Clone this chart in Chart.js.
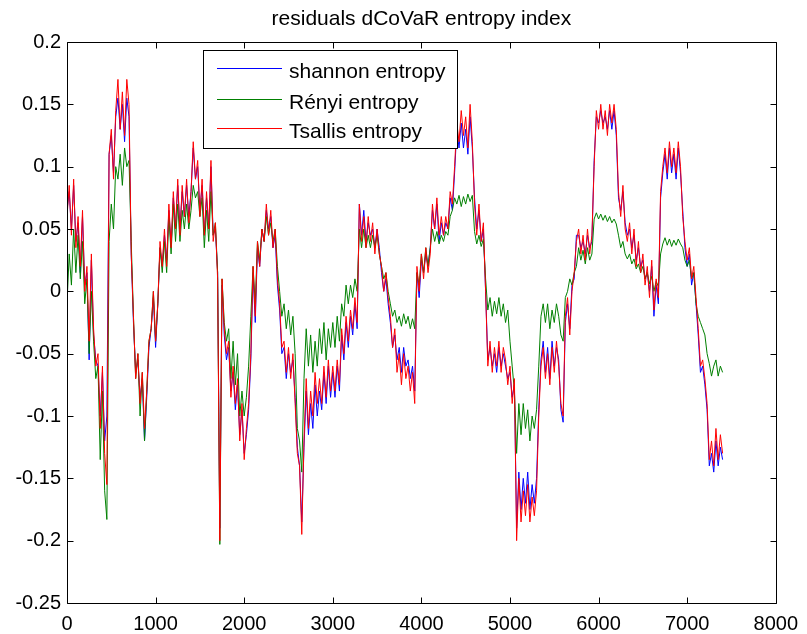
<!DOCTYPE html>
<html><head><meta charset="utf-8">
<script src="https://cdn.jsdelivr.net/npm/chart.js@4"></script>
<style>html,body{margin:0;padding:0;background:#fff}#wrap{width:807px;height:634px}</style>
</head><body><div id="wrap"><canvas id="c" width="807" height="634"></canvas></div>
<script>
const titleText = 'residuals dCoVaR entropy index';
const seriesNames = ['shannon entropy', 'Rényi entropy', 'Tsallis entropy'];
const xTicks = [0, 1000, 2000, 3000, 4000, 5000, 6000, 7000, 8000];
const yTicks = [-0.25, -0.2, -0.15, -0.1, -0.05, 0, 0.05, 0.1, 0.15, 0.2];

const xs = [
0,25,50,75,100,125,150,175,200,225,
250,275,300,325,350,375,400,425,450,475,
500,525,550,575,600,625,650,675,700,725,
750,775,800,825,850,875,900,925,950,975,
1000,1025,1050,1075,1100,1125,1150,1175,1200,1225,
1250,1275,1300,1325,1350,1375,1400,1425,1450,1475,
1500,1525,1550,1575,1600,1625,1650,1675,1700,1725,
1750,1775,1800,1825,1850,1875,1900,1925,1950,1975,
2000,2025,2050,2075,2100,2125,2150,2175,2200,2225,
2250,2275,2300,2325,2350,2375,2400,2425,2450,2475,
2500,2525,2550,2575,2600,2625,2650,2675,2700,2725,
2750,2775,2800,2825,2850,2875,2900,2925,2950,2975,
3000,3025,3050,3075,3100,3125,3150,3175,3200,3225,
3250,3275,3300,3325,3350,3375,3400,3425,3450,3475,
3500,3525,3550,3575,3600,3625,3650,3675,3700,3725,
3750,3775,3800,3825,3850,3875,3900,3925,3950,3975,
4000,4025,4050,4075,4100,4125,4150,4175,4200,4225,
4250,4275,4300,4325,4350,4375,4400,4425,4450,4475,
4500,4525,4550,4575,4600,4625,4650,4675,4700,4725,
4750,4775,4800,4825,4850,4875,4900,4925,4950,4975,
5000,5025,5050,5075,5100,5125,5150,5175,5200,5225,
5250,5275,5300,5325,5350,5375,5400,5425,5450,5475,
5500,5525,5550,5575,5600,5625,5650,5675,5700,5725,
5750,5775,5800,5825,5850,5875,5900,5925,5950,5975,
6000,6025,6050,6075,6100,6125,6150,6175,6200,6225,
6250,6275,6300,6325,6350,6375,6400,6425,6450,6475,
6500,6525,6550,6575,6600,6625,6650,6675,6700,6725,
6750,6775,6800,6825,6850,6875,6900,6925,6950,6975,
7000,7025,7050,7075,7100,7125,7150,7175,7200,7225,
7250,7275,7300,7325,7350,7375,7400];

const shannon = [
0.065,0.08,0.05,0.085,0.04,0.055,0.015,0.06,0.005,0.015,
-0.055,0.025,-0.035,-0.055,-0.06,-0.1,-0.065,-0.12,-0.1,0.11,
0.125,0.095,0.14,0.155,0.13,0.15,0.12,0.155,0.14,0.03,
-0.025,-0.065,-0.055,-0.085,-0.07,-0.12,-0.085,-0.045,-0.03,-0.005,
-0.045,-0.01,0.035,0.02,0.045,0.025,0.065,0.035,0.075,0.05,
0.085,0.05,0.08,0.06,0.085,0.06,0.08,0.115,0.09,0.1,
0.065,0.085,0.045,0.075,0.05,0.1,0.045,0.05,0.015,-0.19,
0.005,-0.035,-0.055,-0.045,-0.08,-0.065,-0.095,-0.075,-0.115,-0.095,
-0.13,-0.115,-0.095,-0.055,0.015,-0.025,0.035,0.02,0.05,0.04,
0.065,0.05,0.06,0.035,0.045,0.005,-0.015,-0.05,-0.045,-0.07,
-0.05,-0.065,-0.055,-0.085,-0.125,-0.14,-0.185,-0.125,-0.08,-0.115,
-0.09,-0.11,-0.075,-0.1,-0.08,-0.095,-0.065,-0.09,-0.06,-0.085,
-0.065,-0.085,-0.06,-0.08,-0.035,-0.055,-0.025,-0.045,-0.02,-0.035,
-0.01,-0.03,0.07,0.045,0.065,0.04,0.055,0.045,0.05,0.035,
0.05,0.035,0.015,0.0,0.01,-0.01,-0.025,-0.045,-0.035,-0.055,
-0.045,-0.065,-0.045,-0.06,-0.055,-0.07,-0.06,-0.08,0.015,-0.005,
0.025,0.015,0.03,0.02,0.035,0.065,0.05,0.07,0.04,0.055,
0.045,0.055,0.05,0.075,0.065,0.095,0.13,0.115,0.135,0.115,
0.13,0.11,0.14,0.115,0.075,0.05,0.065,0.04,0.05,0.0,
-0.055,-0.045,-0.06,-0.05,-0.065,-0.045,-0.06,-0.05,-0.06,-0.07,
-0.065,-0.085,-0.075,-0.19,-0.145,-0.175,-0.15,-0.17,-0.145,-0.175,
-0.155,-0.17,-0.15,-0.095,-0.055,-0.04,-0.065,-0.045,-0.07,-0.04,
-0.06,-0.045,-0.055,-0.095,-0.105,-0.025,-0.01,-0.03,0.005,0.01,
0.045,0.045,0.035,0.04,0.03,0.045,0.035,0.04,0.105,0.14,
0.135,0.145,0.135,0.14,0.13,0.145,0.13,0.145,0.125,0.075,
0.065,0.08,0.055,0.045,0.05,0.035,0.045,0.025,0.035,0.02,
0.025,0.01,0.015,0.0,0.02,-0.02,0.005,-0.01,0.075,0.095,
0.11,0.09,0.115,0.095,0.11,0.09,0.115,0.095,0.065,0.035,
0.02,0.03,0.005,0.015,-0.01,-0.035,-0.065,-0.06,-0.075,-0.095,
-0.14,-0.13,-0.145,-0.12,-0.14,-0.125,-0.135];

const renyi = [
-0.01,0.03,0.005,0.05,0.015,0.045,0.01,0.04,-0.01,0.01,
-0.05,0.0,-0.04,-0.07,-0.06,-0.135,-0.08,-0.16,-0.183,0.04,
0.07,0.05,0.1,0.09,0.11,0.085,0.115,0.1,0.105,0.04,
-0.02,-0.07,-0.05,-0.1,-0.065,-0.12,-0.08,-0.04,-0.03,0.0,
-0.04,-0.01,0.035,0.015,0.04,0.015,0.06,0.03,0.07,0.04,
0.07,0.04,0.065,0.05,0.07,0.05,0.065,0.085,0.075,0.08,
0.06,0.075,0.035,0.065,0.04,0.08,0.045,0.055,0.015,-0.203,
0.01,-0.025,-0.04,-0.03,-0.07,-0.04,-0.075,-0.05,-0.1,-0.08,
-0.1,-0.085,-0.06,-0.02,0.02,-0.01,0.04,0.025,0.05,0.04,
0.06,0.045,0.055,0.04,0.05,0.02,0.0,-0.02,-0.01,-0.03,
-0.015,-0.035,-0.02,-0.05,-0.11,-0.12,-0.145,-0.07,-0.03,-0.06,
-0.035,-0.065,-0.04,-0.06,-0.03,-0.05,-0.025,-0.055,-0.03,-0.045,
-0.025,-0.045,-0.02,-0.04,-0.01,-0.02,0.005,-0.01,0.005,-0.005,
0.01,0.0,0.05,0.035,0.05,0.035,0.045,0.035,0.045,0.035,
0.045,0.03,0.02,0.01,0.015,0.0,-0.01,-0.02,-0.015,-0.025,
-0.02,-0.028,-0.018,-0.026,-0.02,-0.03,-0.022,-0.03,0.015,0.005,
0.03,0.015,0.035,0.02,0.035,0.05,0.04,0.048,0.038,0.045,
0.04,0.048,0.045,0.06,0.065,0.075,0.07,0.077,0.068,0.076,
0.07,0.078,0.072,0.077,0.048,0.038,0.045,0.036,0.042,0.01,
-0.015,-0.005,-0.02,-0.008,-0.018,-0.005,-0.02,-0.01,-0.025,-0.015,
-0.04,-0.06,-0.08,-0.13,-0.09,-0.115,-0.09,-0.11,-0.095,-0.12,
-0.1,-0.11,-0.095,-0.06,-0.02,-0.01,-0.025,-0.01,-0.03,-0.015,
-0.025,-0.01,-0.02,-0.035,-0.04,-0.005,0.0,0.01,0.005,0.015,
0.02,0.035,0.025,0.033,0.022,0.035,0.025,0.03,0.058,0.063,
0.058,0.062,0.057,0.061,0.056,0.06,0.055,0.058,0.054,0.045,
0.035,0.04,0.03,0.026,0.03,0.022,0.026,0.018,0.022,0.015,
0.02,0.01,0.015,0.006,0.012,0.0,0.008,0.004,0.03,0.038,
0.043,0.037,0.042,0.036,0.041,0.037,0.042,0.038,0.035,0.025,
0.02,0.025,0.01,0.015,-0.01,-0.02,-0.025,-0.03,-0.035,-0.05,
-0.058,-0.068,-0.06,-0.055,-0.068,-0.06,-0.065];

const tsallis = [
0.06,0.085,0.045,0.09,0.035,0.06,0.02,0.065,0.0,0.02,
-0.04,0.03,-0.03,-0.06,-0.05,-0.11,-0.06,-0.13,-0.155,0.11,
0.13,0.09,0.145,0.17,0.13,0.16,0.125,0.17,0.15,0.03,
-0.02,-0.07,-0.05,-0.09,-0.065,-0.11,-0.08,-0.04,-0.03,0.0,
-0.04,-0.01,0.04,0.02,0.05,0.02,0.07,0.035,0.08,0.05,
0.09,0.045,0.085,0.06,0.09,0.055,0.08,0.12,0.09,0.105,
0.06,0.09,0.045,0.08,0.05,0.105,0.04,0.055,0.01,-0.2,
0.01,-0.03,-0.05,-0.04,-0.085,-0.06,-0.09,-0.07,-0.12,-0.09,
-0.135,-0.11,-0.09,-0.05,0.02,-0.02,0.04,0.02,0.05,0.04,
0.07,0.045,0.065,0.035,0.05,0.01,-0.01,-0.045,-0.04,-0.065,
-0.045,-0.07,-0.05,-0.09,-0.13,-0.14,-0.195,-0.12,-0.07,-0.11,
-0.08,-0.1,-0.065,-0.09,-0.07,-0.09,-0.06,-0.085,-0.055,-0.08,
-0.06,-0.08,-0.055,-0.075,-0.03,-0.05,-0.02,-0.04,-0.015,-0.03,
-0.005,-0.025,0.07,0.04,0.06,0.035,0.06,0.04,0.055,0.03,
0.05,0.03,0.02,0.0,0.015,-0.005,-0.02,-0.045,-0.03,-0.065,
-0.05,-0.075,-0.05,-0.07,-0.06,-0.08,-0.065,-0.09,0.02,0.0,
0.03,0.01,0.035,0.015,0.03,0.07,0.05,0.075,0.045,0.06,
0.045,0.06,0.05,0.08,0.07,0.1,0.135,0.12,0.145,0.125,
0.14,0.115,0.15,0.12,0.07,0.045,0.07,0.04,0.055,0.0,
-0.06,-0.04,-0.065,-0.045,-0.06,-0.04,-0.065,-0.045,-0.055,-0.075,
-0.06,-0.09,-0.07,-0.2,-0.15,-0.185,-0.16,-0.18,-0.155,-0.185,
-0.165,-0.18,-0.16,-0.1,-0.06,-0.045,-0.07,-0.05,-0.075,-0.045,
-0.065,-0.04,-0.06,-0.09,-0.1,-0.02,-0.005,-0.035,0.0,0.015,
0.04,0.05,0.03,0.045,0.025,0.05,0.03,0.045,0.1,0.145,
0.13,0.15,0.13,0.145,0.125,0.15,0.135,0.15,0.13,0.08,
0.06,0.085,0.05,0.04,0.055,0.03,0.05,0.02,0.04,0.015,
0.03,0.005,0.02,-0.005,0.025,-0.015,0.01,-0.005,0.08,0.1,
0.115,0.095,0.12,0.1,0.115,0.095,0.12,0.1,0.06,0.04,
0.025,0.035,0.01,0.02,-0.005,-0.03,-0.06,-0.055,-0.07,-0.09,
-0.135,-0.12,-0.14,-0.11,-0.135,-0.115,-0.13];

const colors = ['#0000ff', '#008000', '#ff0000'];
const FONT = '"Liberation Sans", Arial, sans-serif';

function pts(arr) { return xs.map((x, i) => ({ x: x, y: arr[i] })); }

const matlabPlugin = {
  id: 'matlab',
  afterDraw(chart) {
    const ctx = chart.ctx, a = chart.chartArea;
    const sx = chart.scales.x, sy = chart.scales.y;
    ctx.save();
    ctx.strokeStyle = '#000';
    ctx.lineWidth = 1;
    const L = Math.round(a.left) + 0.5, R = Math.round(a.right) + 0.5;
    const T = Math.round(a.top) + 0.5, B = Math.round(a.bottom) + 0.5;
    ctx.beginPath();
    ctx.rect(L, T, R - L, B - T);
    ctx.stroke();
    const tl = 6;
    ctx.beginPath();
    xTicks.forEach(v => {
      const p = Math.round(sx.getPixelForValue(v)) + 0.5;
      ctx.moveTo(p, B); ctx.lineTo(p, B - tl);
      ctx.moveTo(p, T); ctx.lineTo(p, T + tl);
    });
    yTicks.forEach(v => {
      const p = Math.round(sy.getPixelForValue(v)) + 0.5;
      ctx.moveTo(L, p); ctx.lineTo(L + tl, p);
      ctx.moveTo(R, p); ctx.lineTo(R - tl, p);
    });
    ctx.stroke();
    ctx.fillStyle = '#000';
    ctx.font = '21px ' + FONT;
    ctx.textAlign = 'center';
    ctx.textBaseline = 'alphabetic';
    ctx.fillText(titleText, (a.left + a.right) / 2, 25);
    const lx = 203.5, ly = 50.5, lw = 254, lh = 98;
    ctx.fillStyle = '#fff';
    ctx.fillRect(lx, ly, lw, lh);
    ctx.strokeRect(lx, ly, lw, lh);
    const rows = [68, 99, 128];
    ctx.textAlign = 'left';
    rows.forEach((ry, i) => {
      ctx.strokeStyle = colors[i];
      ctx.beginPath();
      ctx.moveTo(217, ry + 0.5); ctx.lineTo(282, ry + 0.5);
      ctx.stroke();
      ctx.fillStyle = '#000';
      ctx.fillText(seriesNames[i], 289, ry + 10);
    });
    ctx.restore();
  }
};

new Chart(document.getElementById('c'), {
  type: 'line',
  data: {
    datasets: [
      { label: seriesNames[0], data: pts(shannon), borderColor: colors[0], borderWidth: 1, pointRadius: 0, tension: 0, order: 2 },
      { label: seriesNames[1], data: pts(renyi), borderColor: colors[1], borderWidth: 1, pointRadius: 0, tension: 0, order: 1 },
      { label: seriesNames[2], data: pts(tsallis), borderColor: colors[2], borderWidth: 1, pointRadius: 0, tension: 0, order: 0 }
    ]
  },
  options: {
    responsive: false,
    animation: false,
    devicePixelRatio: 1,
    layout: { padding: { top: 42, right: 27, left: 0, bottom: 0 } },
    plugins: { legend: { display: false }, title: { display: false }, tooltip: { enabled: false } },
    scales: {
      x: {
        type: 'linear', min: 0, max: 8000,
        afterBuildTicks: s => { s.ticks = xTicks.map(v => ({ value: v })); },
        afterFit: s => { s.height = 31; },
        grid: { display: false, drawTicks: false }, border: { display: false },
        ticks: { color: '#000', font: { family: FONT, size: 20 }, padding: 9, maxRotation: 0, autoSkip: false, callback: v => String(v) }
      },
      y: {
        type: 'linear', min: -0.25, max: 0.2,
        afterBuildTicks: s => { s.ticks = yTicks.map(v => ({ value: v })); },
        afterFit: s => { s.width = 67; },
        grid: { display: false, drawTicks: false }, border: { display: false },
        ticks: { color: '#000', font: { family: FONT, size: 20 }, padding: 6, autoSkip: false, callback: v => String(+Number(v).toFixed(2)) }
      }
    }
  },
  plugins: [matlabPlugin]
});
</script>
</body></html>
